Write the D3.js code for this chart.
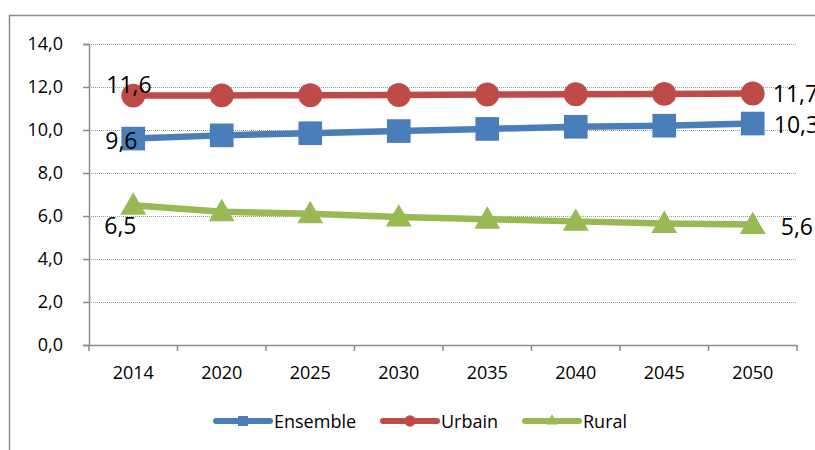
<!DOCTYPE html>
<html><head><meta charset="utf-8">
<script src="https://cdn.jsdelivr.net/npm/d3@7"></script>
<style>body{margin:0;background:#fff}svg{display:block;font-family:"Open Sans","Noto Sans",sans-serif}svg text{font-family:"Open Sans","Noto Sans",sans-serif}</style>
</head><body>
<svg id="c" width="815" height="450"></svg>
<script>
const years = ["2014","2020","2025","2030","2035","2040","2045","2050"];
const ensemble = [9.6, 9.75, 9.85, 9.95, 10.05, 10.15, 10.2, 10.3];
const urbain = [11.6, 11.61, 11.62, 11.63, 11.65, 11.66, 11.68, 11.7];
const rural = [6.5, 6.2, 6.1, 5.95, 5.85, 5.75, 5.65, 5.6];
const yTicks = [0, 2, 4, 6, 8, 10, 12, 14];
const seriesNames = ["Ensemble", "Urbain", "Rural"];

const svg = d3.select("#c");
const m = {l: 89, r: 797, t: 44, b: 345};
const x = d3.scaleBand().domain(years).range([m.l, m.r]);
const y = d3.scaleLinear().domain([0, 14]).range([m.b, m.t]);
const fmt = v => d3.format(".1f")(v).replace(".", ",");

svg.append("rect").attr("x", 9.5).attr("y", 15.5).attr("width", 900).attr("height", 500)
  .attr("fill", "none").attr("stroke", "#8c8c8c").attr("stroke-width", 1.5);

// gridlines
svg.append("g").selectAll("line").data(yTicks.filter(d => d > 0)).join("line")
  .attr("x1", m.l).attr("x2", m.r).attr("y1", d => Math.round(y(d)) + 0.5).attr("y2", d => Math.round(y(d)) + 0.5)
  .attr("stroke", "#9a9a9a").attr("stroke-dasharray", "1,1");

// y axis
const ya = svg.append("g").attr("transform", `translate(${m.l},0)`)
  .call(d3.axisLeft(y).tickValues(yTicks).tickFormat(fmt).tickSize(6).tickPadding(20))
  .attr("font-family", null).attr("font-size", null);
ya.select(".domain").attr("stroke", "#8c8c8c").attr("stroke-width", 1.5);
ya.selectAll(".tick line").attr("stroke", "#8c8c8c").attr("stroke-width", 1.5);
ya.selectAll("text").style("font-size", "18px").attr("fill", "#000");

// x axis
const xa = svg.append("g").attr("transform", `translate(0,${m.b})`)
  .call(d3.axisBottom(x).tickSize(0).tickPadding(21))
  .attr("font-family", null).attr("font-size", null);
xa.select(".domain").attr("stroke", "#8c8c8c").attr("stroke-width", 1.5);
xa.selectAll("text").style("font-size", "18px").attr("fill", "#000");
const bounds = years.map((d) => x(d)).concat([m.r]);
svg.append("g").selectAll("line").data(bounds).join("line")
  .attr("x1", d => d).attr("x2", d => d).attr("y1", m.b).attr("y2", m.b + 6)
  .attr("stroke", "#8c8c8c").attr("stroke-width", 1.5);

const cx = d => x(d) + x.bandwidth() / 2;
const series = [
  {name: "Ensemble", values: ensemble, color: "#4a7ebb", sym: d3.symbolSquare, size: 560},
  {name: "Urbain", values: urbain, color: "#be4b48", sym: d3.symbolCircle, size: 450},
  {name: "Rural", values: rural, color: "#98b954", sym: d3.symbolTriangle, size: 290}
];
const line = d3.line().x((d, i) => cx(years[i])).y(d => y(d));
series.forEach(s => {
  svg.append("path").datum(s.values).attr("d", line).attr("fill", "none")
    .attr("stroke", s.color).attr("stroke-width", 6.5).attr("stroke-linejoin", "round");
  svg.append("g").selectAll("path").data(s.values).join("path")
    .attr("d", d3.symbol().type(s.sym).size(s.size))
    .attr("transform", (d, i) => `translate(${cx(years[i])},${y(d) + (s.sym === d3.symbolTriangle ? 2 : 0)})`)
    .attr("fill", s.color);
});

// data labels
const lab = (txt, px, py) => svg.append("text").attr("x", px).attr("y", py)
  .style("font-size", "23px").attr("fill", "#000").text(txt);
const first = years[0], last = years[years.length - 1];
lab(fmt(urbain[0]), cx(first) - 27, y(urbain[0]) - 3);
lab(fmt(ensemble[0]), cx(first) - 28, y(ensemble[0]) + 10);
lab(fmt(rural[0]), cx(first) - 29, y(rural[0]) + 29);
lab(fmt(urbain[7]), cx(last) + 20, y(urbain[7]) + 9);
lab(fmt(ensemble[7]), cx(last) + 21, y(ensemble[7]) + 9);
lab(fmt(rural[7]), cx(last) + 28, y(rural[7]) + 10);

// legend
const legX = [214, 381, 523];
series.forEach((s, i) => {
  const g = svg.append("g").attr("transform", `translate(${legX[i]},421)`);
  g.append("line").attr("x1", 2).attr("x2", 56).attr("stroke", s.color).attr("stroke-width", 6).attr("stroke-linecap", "round");
  g.append("path").attr("d", d3.symbol().type(s.sym).size(s.sym === d3.symbolTriangle ? 60 : 100)).attr("transform", "translate(29,0)").attr("fill", s.color);
  g.append("text").attr("x", 60).attr("y", 7).style("font-size", "18px").attr("fill", "#000").text(s.name);
});
</script>
</body></html>
